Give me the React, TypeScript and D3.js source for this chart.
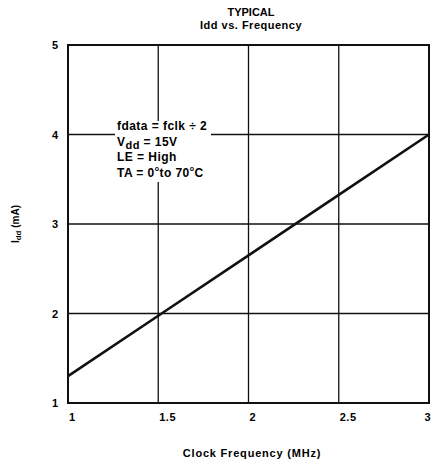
import React from "react";
import * as d3 from "d3";

const freqMHz = [1, 1.5, 2, 2.5, 3];
const iddMA = [1.3, 1.975, 2.65, 3.325, 4.0];
const xTicks = [1, 1.5, 2, 2.5, 3];
const xTickLabels = ["1", "1.5", "2", "2.5", "3"];
const yTicks = [1, 2, 3, 4, 5];
const noteLines = ["fdata = fclk ÷ 2", "Vdd = 15V", "LE = High", "TA = 0°to 70°C"];

export default function App() {
  const W = 442, H = 465;
  const m = { left: 68, right: 429, top: 45, bottom: 403 };
  const x = d3.scaleLinear().domain([1, 3]).range([m.left, m.right]);
  const y = d3.scaleLinear().domain([1, 5]).range([m.bottom, m.top]);
  const line = d3.line<number>().x((_, i) => x(freqMHz[i])).y((d) => y(d));
  const font = "'Liberation Sans', Arial, sans-serif";
  return (
    <svg width={W} height={H} style={{ position: "absolute", left: 0, top: 0, background: "#fff" }} fontFamily={font} fontWeight="bold">
      <rect width={W} height={H} fill="#fff" />
      <text x={251} y={16} textAnchor="middle" fontSize={11}>TYPICAL</text>
      <text x={251} y={29} textAnchor="middle" fontSize={11} letterSpacing={0.5}>Idd vs. Frequency</text>
      {xTicks.slice(1, -1).map((t) => (
        <line key={"gx" + t} x1={x(t)} x2={x(t)} y1={m.top} y2={m.bottom} stroke="#111" strokeWidth={1.3} />
      ))}
      {yTicks.slice(1, -1).map((t) => (
        <line key={"gy" + t} x1={m.left} x2={m.right} y1={y(t)} y2={y(t)} stroke="#111" strokeWidth={1.3} />
      ))}
      <rect x={m.left} y={m.top} width={m.right - m.left} height={m.bottom - m.top} fill="none" stroke="#111" strokeWidth={2} />
      <rect x={115} y={121} width={96} height={61} fill="#fff" />
      <path d={line(iddMA) || ""} fill="none" stroke="#111" strokeWidth={2.6} />
      <g fontSize={12} letterSpacing={0.45}>
        <text x={117} y={129.5}>{noteLines[0]}</text>
        <text x={117} y={145.5}>V<tspan fontSize={11} dy={3}>dd</tspan><tspan dy={-3}> = 15V</tspan></text>
        <text x={117} y={161}>{noteLines[2]}</text>
        <text x={117} y={176.5}>TA = 0<tspan fontSize={7} dy={-6}>o</tspan><tspan dy={6}>to 70</tspan><tspan fontSize={7} dy={-6}>o</tspan><tspan dy={6}>C</tspan></text>
      </g>
      {yTicks.map((t) => (
        <text key={"ty" + t} x={58} y={y(t) + 4} textAnchor="end" fontSize={11}>{t}</text>
      ))}
      {xTicks.map((t, i) => (
        <text key={"tx" + t} x={i === xTicks.length - 1 ? x(t) + 2 : x(t) + 1} y={421} textAnchor={i === xTicks.length - 1 ? "end" : "start"} fontSize={11} letterSpacing={0.5}>{xTickLabels[i]}</text>
      ))}
      <text x={252} y={457} textAnchor="middle" fontSize={11} letterSpacing={0.8}>Clock Frequency (MHz)</text>
      <text transform={`translate(19,${(m.top + m.bottom) / 2}) rotate(-90)`} textAnchor="middle" fontSize={10}>I<tspan fontSize={8} dy={2}>dd</tspan><tspan dy={-2}> (mA)</tspan></text>
    </svg>
  );
}
